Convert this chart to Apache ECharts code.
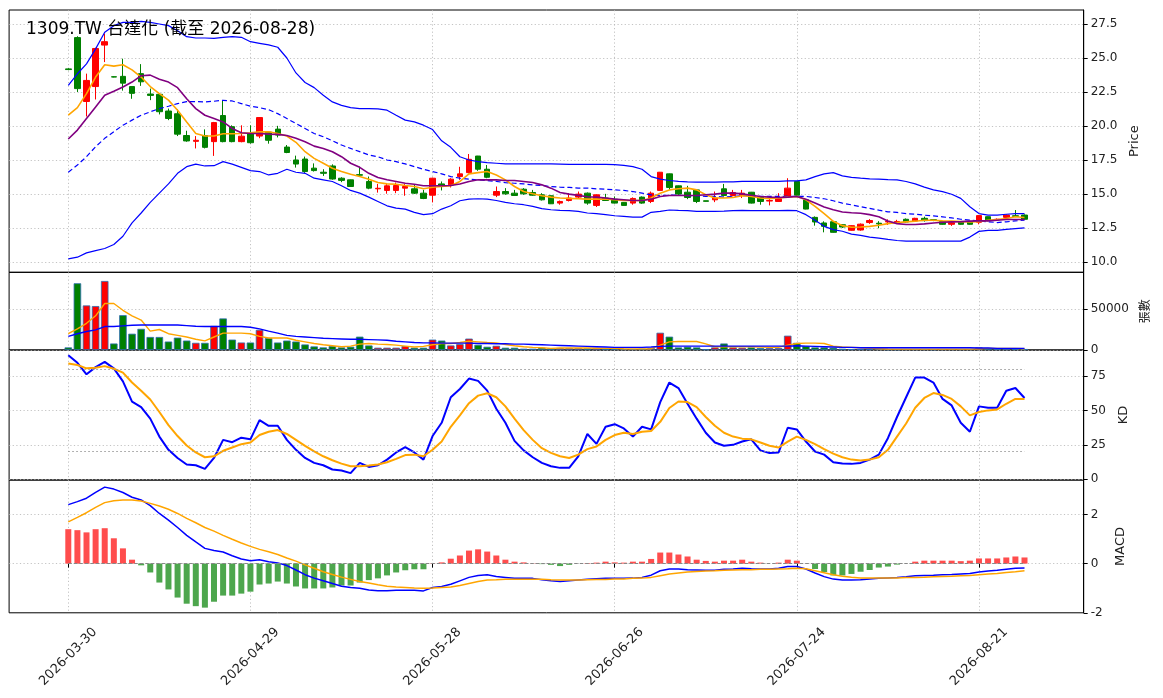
<!DOCTYPE html>
<html>
<head>
<meta charset="utf-8">
<title>1309.TW</title>
<script src="https://cdn.jsdelivr.net/npm/echarts@6.0.0/dist/echarts.min.js"></script>
<style>
  html, body { margin: 0; padding: 0; background: #fff; }
  #chart { width: 1163px; height: 698px; }
</style>
</head>
<body>
<div id="chart"></div>
<script>
// trading days shown on the chart
const dates = [
  "2026-03-30","2026-03-31","2026-04-01","2026-04-02","2026-04-07","2026-04-08","2026-04-09","2026-04-10","2026-04-13","2026-04-14",
  "2026-04-15","2026-04-16","2026-04-17","2026-04-20","2026-04-21","2026-04-22","2026-04-23","2026-04-24","2026-04-27","2026-04-28",
  "2026-04-29","2026-04-30","2026-05-04","2026-05-05","2026-05-06","2026-05-07","2026-05-08","2026-05-11","2026-05-12","2026-05-13",
  "2026-05-14","2026-05-15","2026-05-18","2026-05-19","2026-05-20","2026-05-21","2026-05-22","2026-05-25","2026-05-26","2026-05-27",
  "2026-05-28","2026-05-29","2026-06-01","2026-06-02","2026-06-03","2026-06-04","2026-06-05","2026-06-08","2026-06-09","2026-06-10",
  "2026-06-11","2026-06-12","2026-06-15","2026-06-16","2026-06-17","2026-06-18","2026-06-22","2026-06-23","2026-06-24","2026-06-25",
  "2026-06-26","2026-06-29","2026-06-30","2026-07-01","2026-07-02","2026-07-03","2026-07-06","2026-07-07","2026-07-08","2026-07-09",
  "2026-07-10","2026-07-13","2026-07-14","2026-07-15","2026-07-16","2026-07-17","2026-07-20","2026-07-21","2026-07-22","2026-07-23",
  "2026-07-24","2026-07-27","2026-07-28","2026-07-29","2026-07-30","2026-07-31","2026-08-03","2026-08-04","2026-08-05","2026-08-06",
  "2026-08-07","2026-08-10","2026-08-11","2026-08-12","2026-08-13","2026-08-14","2026-08-17","2026-08-18","2026-08-19","2026-08-20",
  "2026-08-21","2026-08-24","2026-08-25","2026-08-26","2026-08-27","2026-08-28"
];

const openP = [
  24.2,26.5,21.8,22.9,25.95,23.62,23.65,22.9,23.85,22.35,
  22.33,21.1,20.9,19.3,18.87,19.3,18.85,20.77,19.95,18.85,
  19.45,19.26,19.55,19.77,18.45,17.5,17.57,16.9,16.6,17.06,
  16.16,16.04,16.42,15.92,15.38,15.26,15.26,15.43,15.38,15.06,
  14.91,15.74,15.67,16.28,16.57,17.79,16.82,14.91,15.18,15.06,
  15.35,15.11,14.94,14.87,14.33,14.52,14.77,15.06,14.16,14.7,
  14.62,14.38,14.33,14.77,14.45,15.26,16.48,15.6,15.13,15.3,
  14.5,14.57,15.38,14.89,14.91,15.13,14.77,14.48,14.45,14.82,
  15.92,14.57,13.28,12.87,12.96,12.74,12.33,12.35,12.9,12.85,
  12.94,12.95,13.14,13.01,13.21,13.11,12.97,12.77,12.94,12.97,
  12.92,13.33,13.1,13.28,13.4,13.45
];
const closeP = [
  24.15,22.75,23.35,25.7,26.2,23.6,23.15,22.4,23.25,22.25,
  21.05,20.55,19.4,18.9,18.95,18.43,20.25,18.85,18.85,19.25,
  18.77,20.62,18.95,19.33,18.05,17.2,16.65,16.72,16.52,16.1,
  16.0,15.55,16.38,15.43,15.42,15.6,15.62,15.55,15.06,14.67,
  16.16,15.55,16.09,16.48,17.55,16.82,16.23,15.18,15.01,14.89,
  15.01,14.91,14.57,14.28,14.45,14.7,14.99,14.33,14.94,14.52,
  14.33,14.16,14.67,14.33,15.06,16.6,15.48,14.99,14.74,14.45,
  14.46,14.7,14.89,15.11,15.06,14.33,14.45,14.52,14.65,15.43,
  14.91,13.89,12.94,12.62,12.18,12.57,12.67,12.78,13.05,12.8,
  12.98,12.98,12.94,13.21,13.04,13.07,12.77,12.89,12.77,12.77,
  13.41,13.04,13.14,13.45,13.35,13.14
];
const lowP = [
  24.1,22.5,20.7,21.95,24.7,23.58,22.6,22.0,22.95,21.9,
  20.85,20.43,19.26,18.84,18.35,18.35,17.8,18.8,18.8,18.8,
  18.7,19.1,18.7,19.16,18.0,16.94,16.55,16.65,16.33,16.05,
  15.87,15.53,16.33,15.35,15.1,15.02,15.06,14.87,15.0,14.62,
  14.38,15.26,15.48,16.04,16.52,16.7,16.16,14.77,14.94,14.87,
  14.94,14.87,14.52,14.26,14.21,14.45,14.65,14.21,14.04,14.5,
  14.3,14.14,14.21,14.28,14.33,15.24,15.3,14.89,14.62,14.33,
  14.45,14.4,14.82,14.82,14.7,14.3,14.21,14.16,14.43,14.77,
  14.87,13.87,12.67,12.18,12.16,12.5,12.3,12.3,12.8,12.48,
  12.72,12.85,12.9,12.95,12.97,13.0,12.74,12.65,12.74,12.74,
  12.77,13.0,13.05,13.25,13.3,13.1
];
const highP = [
  24.25,26.6,23.85,25.75,26.8,23.65,24.95,22.9,24.55,22.75,
  22.4,21.28,21.23,19.65,19.26,19.75,20.3,21.85,20.05,20.05,
  20.05,20.65,19.6,20.01,18.6,17.82,17.75,17.25,16.82,17.18,
  16.23,16.06,17.0,16.28,15.74,15.79,15.84,15.74,15.67,15.3,
  16.2,15.92,16.16,17.0,17.94,17.8,17.13,15.55,15.43,15.3,
  15.43,15.3,15.06,14.9,14.52,15.06,15.18,15.11,14.96,15.01,
  14.82,14.4,14.75,14.82,15.18,16.62,16.5,15.62,15.6,15.32,
  14.5,15.18,15.74,15.3,15.3,15.15,14.82,14.7,15.06,16.16,
  15.94,14.6,13.35,12.99,12.99,12.76,12.7,12.83,13.15,13.0,
  13.13,13.1,13.2,13.25,13.33,13.12,13.0,12.97,12.97,12.99,
  13.45,13.35,13.2,13.5,13.82,13.5
];

const ma5 = [
  20.8,21.35,22.38,23.6,24.5,24.4,24.5,24.13,23.6,22.9,
  22.38,21.9,21.16,20.3,19.45,19.26,19.26,19.43,19.43,19.45,
  19.5,19.57,19.57,19.45,19.26,18.8,18.11,17.62,17.26,16.89,
  16.65,16.45,16.28,16.09,15.84,15.74,15.72,15.62,15.55,15.38,
  15.5,15.55,15.6,15.92,16.48,16.57,16.65,16.4,16.04,15.55,
  15.18,15.01,14.87,14.77,14.7,14.68,14.65,14.62,14.62,14.62,
  14.57,14.52,14.52,14.52,14.7,15.06,15.3,15.38,15.43,15.3,
  14.94,14.7,14.7,14.74,14.87,14.82,14.7,14.65,14.7,14.77,
  14.82,14.57,14.09,13.55,12.99,12.67,12.55,12.57,12.62,12.7,
  12.82,12.9,12.95,13.0,13.07,13.07,13.02,13.0,12.97,12.95,
  12.97,13.07,13.12,13.19,13.32,13.27
];
const ma10 = [
  19.04,19.7,20.55,21.4,22.26,22.55,22.87,23.23,23.7,23.74,
  23.43,23.23,22.82,22.0,21.28,20.79,20.55,20.3,19.82,19.5,
  19.45,19.45,19.4,19.38,19.3,19.1,18.84,18.52,18.35,18.11,
  17.74,17.26,16.96,16.52,16.21,16.04,15.92,15.79,15.72,15.6,
  15.6,15.6,15.62,15.74,15.92,16.04,16.04,16.04,15.99,15.99,
  15.92,15.84,15.67,15.43,15.11,14.99,14.9,14.8,14.77,14.7,
  14.62,14.57,14.52,14.52,14.62,14.82,14.89,14.89,14.89,14.89,
  14.94,14.99,15.06,15.06,15.01,14.91,14.82,14.77,14.74,14.77,
  14.82,14.62,14.33,14.04,13.84,13.67,13.62,13.58,13.48,13.32,
  13.02,12.82,12.75,12.75,12.8,12.87,12.92,12.95,12.97,13.0,
  13.02,13.02,13.07,13.12,13.12,13.12
];
const bbUpper = [
  22.99,23.84,24.57,25.67,26.9,27.38,27.62,27.62,27.7,27.62,
  27.5,27.38,27.0,26.57,26.47,26.47,26.45,26.52,26.57,26.52,
  26.2,26.08,25.96,25.79,25.0,23.9,23.2,22.82,22.26,21.77,
  21.52,21.35,21.28,21.28,21.26,21.16,20.79,20.43,20.3,20.06,
  19.74,18.91,18.43,17.74,17.5,17.38,17.3,17.26,17.21,17.21,
  17.21,17.21,17.21,17.21,17.2,17.18,17.18,17.18,17.18,17.18,
  17.16,17.11,17.01,16.82,16.28,16.09,15.99,15.92,15.89,15.87,
  15.87,15.87,15.89,15.89,15.92,15.92,15.92,15.92,15.92,15.96,
  15.96,16.04,16.28,16.48,16.57,16.33,16.22,16.16,16.11,16.09,
  16.06,16.04,15.92,15.74,15.5,15.3,15.17,14.98,14.68,14.06,
  13.56,13.44,13.44,13.51,13.56,13.56
];
const bbMid = [
  16.6,17.13,17.74,18.48,19.09,19.57,20.06,20.43,20.79,21.04,
  21.28,21.45,21.65,21.79,21.79,21.77,21.82,21.89,21.84,21.65,
  21.45,21.35,21.2,20.91,20.55,20.18,19.82,19.45,19.21,18.91,
  18.6,18.35,18.11,17.87,17.74,17.5,17.38,17.21,17.01,16.82,
  16.65,16.48,16.28,16.16,16.09,16.04,15.99,15.92,15.84,15.79,
  15.74,15.67,15.62,15.55,15.5,15.48,15.43,15.43,15.38,15.35,
  15.3,15.26,15.18,15.06,14.94,14.89,14.91,14.91,14.87,14.87,
  14.82,14.82,14.77,14.82,14.87,14.87,14.82,14.82,14.82,14.82,
  14.82,14.82,14.74,14.65,14.5,14.33,14.2,14.06,13.94,13.81,
  13.69,13.64,13.56,13.51,13.44,13.39,13.32,13.24,13.14,13.07,
  13.02,12.95,12.9,12.95,13.02,13.07
];
const bbLower = [
  10.23,10.35,10.67,10.84,10.99,11.28,11.89,12.87,13.6,14.38,
  15.06,15.74,16.52,17.01,17.2,17.06,17.08,17.38,17.2,16.96,
  16.72,16.65,16.4,16.52,16.82,16.6,16.52,16.16,16.04,15.92,
  15.6,15.26,15.06,14.77,14.45,14.13,13.96,13.89,13.65,13.48,
  13.55,13.89,14.13,14.5,14.62,14.65,14.62,14.52,14.38,14.28,
  14.21,14.09,13.92,13.84,13.79,13.77,13.72,13.6,13.55,13.48,
  13.4,13.35,13.3,13.3,13.65,13.72,13.82,13.79,13.77,13.72,
  13.72,13.72,13.74,13.77,13.79,13.77,13.77,13.77,13.77,13.79,
  13.77,13.48,13.06,12.62,12.38,12.26,12.05,11.96,11.83,11.76,
  11.66,11.58,11.53,11.53,11.53,11.53,11.53,11.53,11.53,11.83,
  12.25,12.33,12.33,12.4,12.45,12.5
];

const volume = [
  3200,82000,54800,54000,84800,8000,42800,20000,26000,16000,
  16000,10400,15200,11600,8800,8800,29600,38800,12800,9200,
  9200,24800,14800,9200,11600,10400,6800,4400,3200,4800,
  3200,4000,16400,5600,2800,2800,2800,4800,2800,2800,
  12800,11600,5600,7200,14000,6400,4000,5200,2800,2800,
  1600,1600,2800,2000,2400,2400,2400,2000,2400,1600,
  1600,1200,1200,1600,2400,21200,16400,3200,4000,3200,
  800,3200,8000,3200,2800,3200,2400,2400,2400,17600,
  8800,4800,3200,3200,2800,1600,1200,1200,1200,1200,
  800,800,1200,1200,1200,800,1200,1200,1200,1200,
  3200,2000,1200,1600,1200,1200
];
const volMa5 = [
  20000,26000,32800,42000,57200,57200,48800,42000,36800,23200,
  25200,20000,18000,16000,13200,11200,16000,20800,20800,20800,
  20000,16800,14800,14800,14800,12000,10000,8000,6400,5200,
  4000,4800,7200,8000,7200,6800,6000,4800,3600,4400,
  6400,8000,8000,9200,10800,10000,9200,8800,6800,5200,
  4000,3200,2800,2000,2400,2400,2400,2400,2200,2000,
  2000,1600,1400,1400,1600,6000,10000,10400,10400,10400,
  7600,4000,4000,4000,4000,4000,3600,3200,3200,6000,
  8000,8400,8400,8000,4800,3600,3200,2800,2000,1600,
  1200,1100,1100,1100,1100,1100,1100,1100,1100,1100,
  1600,2000,2000,2000,2000,1600
];
const volMa20 = [
  16800,20000,22800,24800,28800,28800,29600,30400,30800,30800,
  30800,30800,30800,30000,29200,28800,28800,28800,28800,28800,
  28000,26000,23200,20800,18000,16800,16000,15200,14400,14000,
  13600,13200,13200,12800,12400,12000,10800,10000,9200,8800,
  8800,8400,8400,8400,8400,8000,8000,7600,7600,7200,
  7200,6800,6400,6000,5600,5200,4800,4400,4000,3600,
  3200,3200,3200,3200,3600,4400,4800,4800,4800,4800,
  4800,4800,4800,4800,4800,4800,4800,4800,4800,4800,
  5200,4800,4400,4000,3600,3200,3200,2800,2800,2800,
  2800,2800,2800,2800,2800,2800,2800,2800,2800,2800,
  2400,2400,2000,2000,2000,2000
];

const kLine = [
  90.0,84.5,76.2,81.4,85.2,80.5,71.0,56.4,52.4,44.0,
  31.0,21.4,15.5,10.7,10.2,7.6,15.5,28.6,26.9,30.2,
  29.0,42.9,38.8,38.8,28.6,21.4,15.5,11.9,10.2,7.1,
  6.4,4.5,11.9,9.0,10.2,14.3,19.5,23.3,19.5,14.3,
  31.4,41.0,59.5,65.5,73.1,71.4,64.3,51.2,41.0,27.9,
  21.0,16.0,11.9,9.5,8.3,8.3,16.7,32.9,25.7,38.1,
  40.0,36.9,31.0,38.1,36.2,56.0,70.2,66.2,54.8,44.0,
  33.8,26.7,24.3,25.0,27.4,29.0,21.0,19.0,19.5,37.4,
  36.2,27.4,20.2,17.9,12.4,11.4,11.2,11.9,14.3,17.9,
  29.8,45.2,59.5,73.8,73.8,70.2,58.3,53.6,41.0,34.5,
  52.9,51.9,51.9,64.3,66.2,59.0
];
const dLine = [
  84.0,82.9,80.5,81.0,82.1,80.2,77.4,70.2,64.3,57.9,
  48.8,39.3,31.4,24.5,19.5,16.0,16.7,20.7,23.1,25.5,
  26.7,32.1,34.5,35.7,32.9,28.6,24.3,20.2,16.7,13.8,
  11.4,9.5,9.5,10.0,10.7,12.4,14.8,17.6,17.9,16.7,
  21.4,27.4,38.1,46.4,55.2,60.7,62.4,59.5,52.9,44.0,
  35.7,28.6,22.6,19.2,16.7,15.5,17.9,21.9,23.8,28.6,
  32.1,33.8,32.9,34.5,35.0,41.7,51.7,56.4,56.0,52.4,
  45.2,38.8,33.8,31.0,29.5,29.0,26.7,24.3,23.1,27.4,
  31.0,28.6,25.5,21.9,18.6,16.0,14.3,13.6,14.3,16.0,
  21.4,31.0,40.5,51.9,59.0,62.6,61.2,58.3,52.9,46.4,
  48.8,50.0,50.7,54.8,58.3,58.3
];

const dif = [
  2.40,2.52,2.66,2.90,3.11,3.03,2.89,2.70,2.59,2.36,
  2.04,1.77,1.47,1.15,0.88,0.62,0.53,0.47,0.32,0.19,
  0.12,0.16,0.08,0.03,-0.08,-0.26,-0.45,-0.59,-0.70,-0.81,
  -0.92,-0.97,-1.00,-1.07,-1.10,-1.10,-1.08,-1.08,-1.08,-1.11,
  -0.97,-0.93,-0.84,-0.70,-0.56,-0.48,-0.45,-0.52,-0.56,-0.60,
  -0.60,-0.60,-0.66,-0.70,-0.73,-0.70,-0.67,-0.64,-0.62,-0.60,
  -0.60,-0.60,-0.59,-0.56,-0.47,-0.29,-0.22,-0.22,-0.25,-0.26,
  -0.27,-0.27,-0.23,-0.22,-0.19,-0.21,-0.22,-0.22,-0.19,-0.12,
  -0.12,-0.22,-0.38,-0.53,-0.63,-0.67,-0.67,-0.66,-0.63,-0.60,
  -0.58,-0.56,-0.53,-0.49,-0.48,-0.47,-0.45,-0.44,-0.42,-0.40,
  -0.34,-0.30,-0.27,-0.23,-0.19,-0.18
];
const dea = [
  1.70,1.88,2.07,2.29,2.48,2.56,2.59,2.59,2.55,2.45,
  2.34,2.21,2.04,1.84,1.66,1.47,1.32,1.15,0.99,0.84,
  0.70,0.58,0.48,0.37,0.23,0.10,-0.05,-0.19,-0.33,-0.44,
  -0.55,-0.64,-0.73,-0.79,-0.86,-0.92,-0.95,-0.97,-0.99,-1.00,
  -0.99,-0.97,-0.95,-0.89,-0.81,-0.73,-0.67,-0.66,-0.64,-0.64,
  -0.64,-0.64,-0.64,-0.66,-0.67,-0.67,-0.67,-0.66,-0.65,-0.65,
  -0.63,-0.63,-0.60,-0.59,-0.56,-0.49,-0.42,-0.38,-0.34,-0.32,
  -0.30,-0.29,-0.27,-0.26,-0.25,-0.25,-0.23,-0.23,-0.22,-0.21,
  -0.19,-0.21,-0.29,-0.37,-0.45,-0.51,-0.55,-0.58,-0.59,-0.59,
  -0.59,-0.58,-0.56,-0.56,-0.55,-0.53,-0.52,-0.51,-0.49,-0.48,
  -0.45,-0.42,-0.40,-0.36,-0.33,-0.29
];
const macdHist = [
  1.40,1.36,1.27,1.40,1.44,1.03,0.62,0.16,-0.07,-0.36,
  -0.77,-1.05,-1.38,-1.63,-1.73,-1.79,-1.55,-1.30,-1.30,-1.22,
  -1.14,-0.85,-0.81,-0.73,-0.81,-0.93,-1.01,-1.01,-1.01,-0.97,
  -0.89,-0.89,-0.77,-0.67,-0.60,-0.48,-0.36,-0.27,-0.23,-0.23,
  0.01,0.05,0.20,0.33,0.53,0.58,0.49,0.33,0.16,0.08,
  0.05,0.01,-0.02,-0.05,-0.10,-0.05,0.00,0.02,0.04,0.08,
  0.05,0.04,0.08,0.08,0.19,0.45,0.45,0.37,0.29,0.16,
  0.11,0.08,0.12,0.12,0.16,0.08,0.04,0.00,0.04,0.16,
  0.12,0.00,-0.22,-0.34,-0.48,-0.48,-0.42,-0.33,-0.26,-0.16,
  -0.12,-0.04,0.00,0.08,0.12,0.12,0.12,0.12,0.10,0.12,
  0.21,0.21,0.21,0.25,0.29,0.25
];

const priceTicks = [10, 12.5, 15, 17.5, 20, 22.5, 25, 27.5];
const volTicks = [0, 50000];
const kdTicks = [0, 25, 50, 75];
const macdTicks = [-2, 0, 2];
const titleText = "1309.TW 台達化 (截至 2026-08-28)";

// empty slots on both sides so the first/last candles sit where the reference has them
const PAD = 6;
const cats = [];
for (let k = 0; k < PAD; k++) cats.push("pl" + k);
dates.forEach(d => cats.push(d));
for (let k = 0; k < PAD; k++) cats.push("pr" + k);

const pad = arr => {
  const out = [];
  for (let k = 0; k < PAD; k++) out.push("-");
  arr.forEach(v => out.push(v));
  for (let k = 0; k < PAD; k++) out.push("-");
  return out;
};

const RED = "#ff0000", GREEN = "#008000", BLUE = "#0000ff", ORANGE = "#ffa500", PURPLE = "#800080";
const isUp = i => closeP[i] >= openP[i];

const candles = pad(dates.map((d, i) => [openP[i], closeP[i], lowP[i], highP[i]]));
const volBars = pad(volume.map((v, i) => ({ value: v, itemStyle: { color: isUp(i) ? RED : GREEN } })));
const histBars = pad(macdHist.map(v => ({ value: v, itemStyle: { color: v >= 0 ? "#ff4d4d" : "#4da64d" } })));

const showTick = idx => idx >= PAD && idx < PAD + dates.length && (idx - PAD) % 20 === 0;
const gridLine = { color: "#b4b4b4", width: 0.8, type: [1.2, 2.4] };
const tickFont = { fontFamily: "DejaVu Sans", fontSize: 12, color: "#222" };

const L = 9.1, W = 1074.6;
const grids = [
  { left: L, width: W, top: 10, height: 262.3 },
  { left: L, width: W, top: 272.3, height: 77.7 },
  { left: L, width: W, top: 350, height: 130 },
  { left: L, width: W, top: 480, height: 132.8 }
].map(g => Object.assign(g, { show: true, borderColor: "#000", borderWidth: 1, containLabel: false, outerBoundsMode: "none" }));

const makeX = (gi, last) => ({
  type: "category", gridIndex: gi, data: cats, boundaryGap: true,
  axisLine: { show: false },
  axisTick: { show: last, alignWithLabel: true, interval: showTick, length: 4, lineStyle: { color: "#000", width: 1 } },
  axisLabel: {
    show: last, interval: showTick, rotate: 45, align: "center", verticalAlign: "middle", margin: 44,
    fontFamily: "DejaVu Sans", fontSize: 13, color: "#222"
  },
  splitLine: { show: true, interval: showTick, alignWithLabel: true, lineStyle: gridLine }
});

const makeY = (gi, min, max, ticks, fmt, name, gap, nameSize) => ({
  type: "value", gridIndex: gi, position: "right", min: min, max: max,
  axisLine: { show: true, lineStyle: { color: "#000", width: 1 } },
  axisTick: { show: true, customValues: ticks, length: 4, lineStyle: { color: "#000" } },
  axisLabel: Object.assign({ customValues: ticks, margin: 7, formatter: fmt }, tickFont),
  splitLine: { show: true, lineStyle: gridLine },
  name: name, nameLocation: "middle", nameRotate: 90, nameGap: gap,
  nameTextStyle: { fontFamily: "DejaVu Sans, Noto Sans CJK TC", fontSize: nameSize, color: "#222" }
});

const line = (name, data, xi, color, width, extra) => Object.assign({
  name: name, type: "line", xAxisIndex: xi, yAxisIndex: xi, data: pad(data),
  showSymbol: false, symbol: "none", z: 4, silent: true,
  lineStyle: { color: color, width: width }
}, extra || {});

const chart = echarts.init(document.getElementById("chart"), null, { renderer: "canvas" });

chart.setOption({
  animation: false,
  backgroundColor: "#fff",
  title: {
    text: titleText, left: 26, top: 21, padding: 0,
    textStyle: { fontFamily: "DejaVu Sans, Noto Sans CJK TC", fontSize: 17, fontWeight: "normal", color: "#000" }
  },
  grid: grids,
  xAxis: [makeX(0, false), makeX(1, false), makeX(2, false), makeX(3, true)],
  yAxis: [
    makeY(0, 9.24, 28.53, priceTicks, v => v.toFixed(1), "Price", 43, 13),
    makeY(1, 0, 95500, volTicks, v => String(v), "張數", 55, 12),
    makeY(2, -0.5, 93.8, kdTicks, v => String(v), "KD", 30, 13),
    makeY(3, -2, 3.4, macdTicks, v => String(v), "MACD", 30, 13)
  ],
  series: [
    {
      name: "K", type: "candlestick", xAxisIndex: 0, yAxisIndex: 0, data: candles, barWidth: 6, z: 3,
      itemStyle: { color: RED, color0: GREEN, borderColor: RED, borderColor0: GREEN, borderWidth: 1 }
    },
    line("BB上", bbUpper, 0, BLUE, 1.2),
    line("BB下", bbLower, 0, BLUE, 1.2),
    line("BB中", bbMid, 0, BLUE, 1.2, { lineStyle: { color: BLUE, width: 1.2, type: [5, 3] } }),
    line("MA5", ma5, 0, ORANGE, 1.6),
    line("MA10", ma10, 0, PURPLE, 1.6),

    {
      name: "Volume", type: "bar", xAxisIndex: 1, yAxisIndex: 1, data: volBars, barWidth: 7.5, z: 2,
      itemStyle: { borderColor: "#2b6cb0", borderWidth: 0.8 }
    },
    line("VMA5", volMa5, 1, ORANGE, 1.4),
    line("VMA20", volMa20, 1, BLUE, 1.4),

    line("K值", kLine, 2, BLUE, 2, {
      markLine: {
        silent: true, symbol: "none", label: { show: false },
        lineStyle: { color: "#999", width: 1, type: [1.5, 2.5] },
        data: [
          [{ coord: [dates[0], 80] }, { coord: [dates[dates.length - 1], 80] }],
          [{ coord: [dates[0], 20] }, { coord: [dates[dates.length - 1], 20] }]
        ]
      }
    }),
    line("D值", dLine, 2, ORANGE, 2),

    {
      name: "OSC", type: "bar", xAxisIndex: 3, yAxisIndex: 3, data: histBars, barWidth: 6, z: 2,
      markLine: {
        silent: true, symbol: "none", label: { show: false },
        lineStyle: { color: "#888", width: 1, type: [3.5, 2] },
        data: [[{ coord: [dates[0], 0] }, { coord: [dates[dates.length - 1], 0] }]]
      }
    },
    line("DIF", dif, 3, BLUE, 1.5),
    line("DEA", dea, 3, ORANGE, 1.5)
  ]
});
</script>
</body>
</html>
